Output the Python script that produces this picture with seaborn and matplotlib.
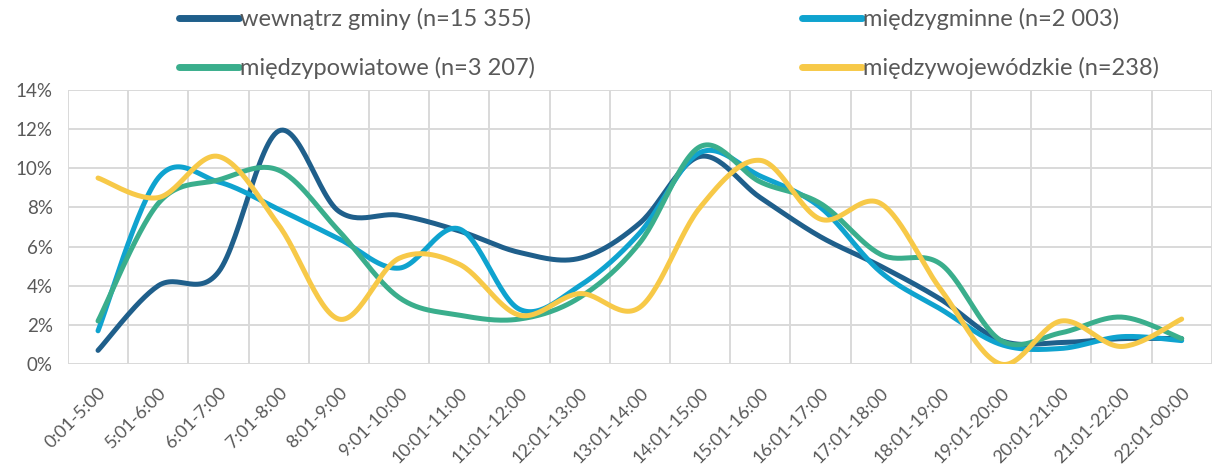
import numpy as np
import pandas as pd
import matplotlib
matplotlib.use('Agg')
import matplotlib.pyplot as plt
from matplotlib.lines import Line2D
from matplotlib.ticker import PercentFormatter, FixedLocator
import seaborn as sns

# Dane (udział podróży w przedziałach godzinowych, %)
godziny = ['0:01-5:00', '5:01-6:00', '6:01-7:00', '7:01-8:00', '8:01-9:00',
           '9:01-10:00', '10:01-11:00', '11:01-12:00', '12:01-13:00', '13:01-14:00',
           '14:01-15:00', '15:01-16:00', '16:01-17:00', '17:01-18:00', '18:01-19:00',
           '19:01-20:00', '20:01-21:00', '21:01-22:00', '22:01-00:00']

wewnatrz_gminy = [0.7, 4.0, 4.7, 11.9, 7.8, 7.6, 6.8, 5.7, 5.4, 7.2,
                  10.6, 8.5, 6.5, 5.0, 3.3, 1.2, 1.1, 1.3, 1.3]
miedzygminne = [1.7, 9.5, 9.3, 7.9, 6.4, 4.9, 6.9, 2.8, 4.0, 6.7,
                10.8, 9.6, 8.0, 4.7, 2.8, 1.0, 0.8, 1.4, 1.2]
miedzypowiatowe = [2.2, 8.2, 9.4, 9.9, 6.8, 3.4, 2.5, 2.3, 3.4, 6.2,
                   11.1, 9.3, 8.2, 5.6, 5.1, 1.2, 1.6, 2.4, 1.3]
miedzywojewodzkie = [9.5, 8.5, 10.6, 7.1, 2.3, 5.4, 5.1, 2.5, 3.6, 2.9,
                     8.0, 10.4, 7.4, 8.2, 3.8, 0.0, 2.2, 0.9, 2.3]

nazwy = ['wewnątrz gminy (n=15 355)', 'międzygminne (n=2 003)',
         'międzypowiatowe (n=3 207)', 'międzywojewódzkie (n=238)']
kolory = ['#1f5f8b', '#0fa3cf', '#3aae8c', '#f7c948']


# wygładzenie linii jak w Excelu (krzywe Beziera przez punkty)
def wygladz(y, n=30):
    pts = np.column_stack([np.arange(len(y)), np.asarray(y, dtype=float)])
    last = len(pts) - 1
    t = np.linspace(0, 1, n)[:, None]
    out = []
    for i in range(last):
        p0, p1 = pts[max(i - 1, 0)], pts[i]
        p2, p3 = pts[i + 1], pts[min(i + 2, last)]
        c1 = p1 + (p2 - p0) / 6
        c2 = p2 - (p3 - p1) / 6
        seg = (1 - t) ** 3 * p1 + 3 * (1 - t) ** 2 * t * c1 + 3 * (1 - t) * t ** 2 * c2 + t ** 3 * p2
        out.append(seg if i == 0 else seg[1:])
    return np.vstack(out)


frames = []
for nazwa, seria in zip(nazwy, [wewnatrz_gminy, miedzygminne, miedzypowiatowe, miedzywojewodzkie]):
    xy = wygladz(seria)
    frames.append(pd.DataFrame({'x': xy[:, 0], 'y': xy[:, 1], 'seria': nazwa}))
df = pd.concat(frames, ignore_index=True)

sns.set_theme(style='white')
plt.rcParams['font.family'] = ['Lato', 'DejaVu Sans']

fig = plt.figure(figsize=(12.13, 4.68), dpi=100)
ax = fig.add_axes([0.056, 0.222, 0.943, 0.586])

sns.lineplot(data=df, x='x', y='y', hue='seria', palette=kolory, hue_order=nazwy,
             estimator=None, sort=False, linewidth=3.6, legend=False, ax=ax)

ax.set_xlim(-0.5, len(godziny) - 0.5)
ax.set_ylim(0, 14)
ax.set_yticks(np.arange(0, 15, 2))
ax.yaxis.set_major_formatter(PercentFormatter(decimals=0))
ax.set_xticks(range(len(godziny)))
ax.set_xticklabels(godziny, rotation=45, ha='right', rotation_mode='anchor')
ax.xaxis.set_minor_locator(FixedLocator(np.arange(-0.5, len(godziny), 1)))
ax.tick_params(axis='y', which='both', length=0, labelsize=13.5, colors='#595959', pad=11)
ax.tick_params(axis='x', which='both', length=0, labelsize=13, colors='#595959', pad=15)
ax.grid(axis='y', which='major', color='#d9d9d9', linewidth=1.4)
ax.grid(axis='x', which='minor', color='#d9d9d9', linewidth=1.4)
ax.set_xlabel('')
ax.set_ylabel('')
for s in ax.spines.values():
    s.set_visible(False)

# legenda: dwie kolumny nad wykresem
styl_leg = dict(loc='upper left', frameon=False, fontsize=17, labelcolor='#595959',
                handlelength=2.55, handletextpad=0.05, labelspacing=1.15,
                borderpad=0.2, borderaxespad=0)
for kol, x0 in [([0, 2], 174), ([1, 3], 797)]:
    uchwyty = [Line2D([0], [0], color=kolory[i], linewidth=5) for i in kol]
    fig.legend(uchwyty, [nazwy[i] for i in kol],
               bbox_to_anchor=(x0 / 1213, 1.0 - 3 / 468), **styl_leg)

fig.savefig('out.png', dpi=100)
